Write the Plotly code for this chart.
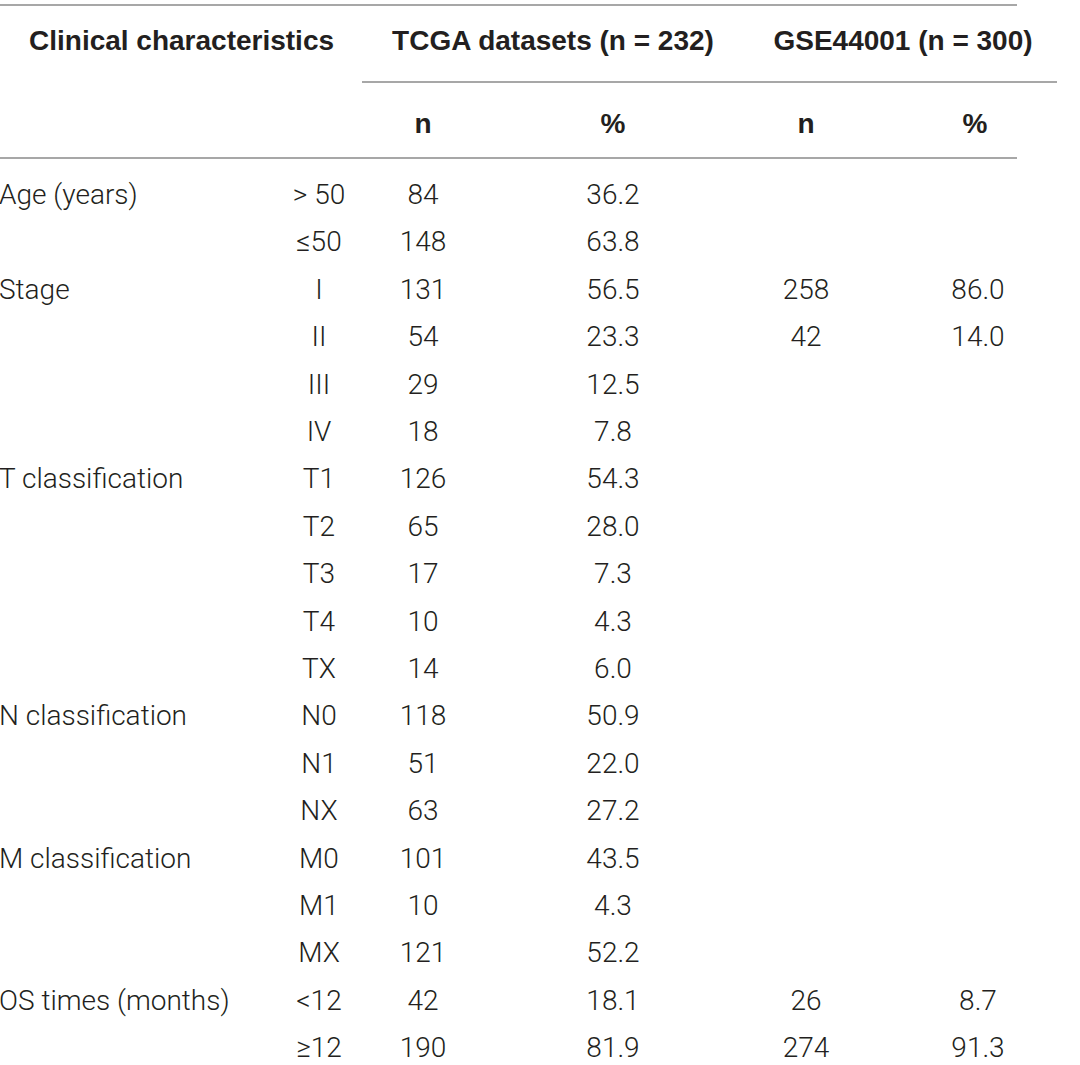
import plotly.graph_objects as go

# table contents
characteristics = ["Age (years)", "", "Stage", "", "", "", "T classification", "", "", "", "",
                   "N classification", "", "", "M classification", "", "", "OS times (months)", ""]
groups = ["> 50", "≤50", "I", "II", "III", "IV", "T1", "T2", "T3", "T4", "TX",
          "N0", "N1", "NX", "M0", "M1", "MX", "<12", "≥12"]
tcga_n = ["84", "148", "131", "54", "29", "18", "126", "65", "17", "10", "14",
          "118", "51", "63", "101", "10", "121", "42", "190"]
tcga_pct = ["36.2", "63.8", "56.5", "23.3", "12.5", "7.8", "54.3", "28.0", "7.3", "4.3", "6.0",
            "50.9", "22.0", "27.2", "43.5", "4.3", "52.2", "18.1", "81.9"]
gse_n = ["", "", "258", "42", "", "", "", "", "", "", "",
         "", "", "", "", "", "", "26", "274"]
gse_pct = ["", "", "86.0", "14.0", "", "", "", "", "", "", "",
           "", "", "", "", "", "", "8.7", "91.3"]

header_top = ["Clinical characteristics", "TCGA datasets (n = 232)", "GSE44001 (n = 300)"]
header_sub = ["n", "%", "n", "%"]

txt_col = "#231f20"
line_col = "#8a8a8a"
fnt = "Roboto"
fs = 28

row_y = [197 + i * 47.4 for i in range(len(groups))]

fig = go.Figure()

def col(xpos, vals, pos):
    fig.add_trace(go.Scatter(x=[xpos] * len(vals), y=row_y[:len(vals)], text=vals, mode="text",
                             textposition=pos, hoverinfo="skip",
                             textfont=dict(family=fnt, size=fs, color=txt_col, weight=300)))

col(-1, characteristics, "middle right")
col(319, groups, "middle center")
col(423, tcga_n, "middle center")
col(613, tcga_pct, "middle center")
col(806, gse_n, "middle center")
col(978, gse_pct, "middle center")

# header rows
bold = dict(family="Liberation Sans", size=28, color=txt_col, weight=700)
fig.add_trace(go.Scatter(x=[29, 553, 903], y=[43, 43, 43], text=header_top, mode="text",
                         textposition=["middle right", "middle center", "middle center"],
                         hoverinfo="skip", textfont=bold))
fig.add_trace(go.Scatter(x=[423, 613, 806, 975], y=[126] * 4, text=header_sub, mode="text",
                         textposition="middle center", hoverinfo="skip", textfont=bold))

# rules
for x0, x1, y in [(0, 1017, 5), (362, 1057, 82), (0, 1017, 158)]:
    fig.add_shape(type="line", x0=x0, x1=x1, y0=y, y1=y, line=dict(color=line_col, width=1.5))

fig.update_xaxes(range=[0, 1080], visible=False)
fig.update_yaxes(range=[1065, 0], visible=False)
fig.update_layout(width=1080, height=1065, margin=dict(l=0, r=0, t=0, b=0),
                  plot_bgcolor="white", paper_bgcolor="white", showlegend=False)

fig.write_html("out.html", config={"displayModeBar": False},
               post_script="document.body.style.margin='0';")
